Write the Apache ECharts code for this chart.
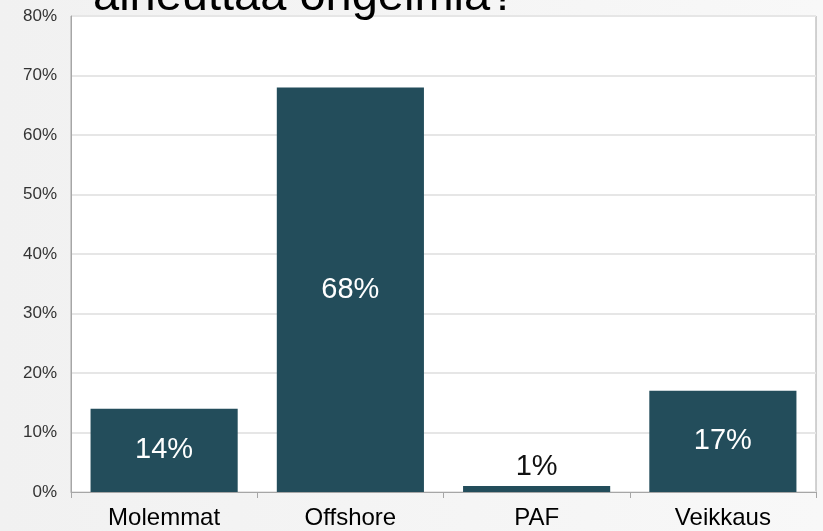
<!DOCTYPE html>
<html>
<head>
<meta charset="utf-8">
<script src="https://cdn.jsdelivr.net/npm/echarts@6/dist/echarts.min.js"></script>
<style>
  html, body { margin: 0; padding: 0; background: #f4f4f4; }
  #main { width: 823px; height: 531px; }
</style>
</head>
<body>
<div id="main"></div>
<script>
// kategoriat ja arvot (%)
var categories = ['Molemmat', 'Offshore', 'PAF', 'Veikkaus'];
var values = [14, 68, 1, 17];
var titleText = 'aiheuttaa ongelmia?';

var myChart = echarts.init(document.getElementById('main'));

var seriesData = values.map(function (v) {
    var item = { value: v };
    // pienelle pylväälle label yläpuolelle, mustana
    if (v < 5) {
        item.label = { position: 'top', color: '#111', distance: 5 };
    }
    return item;
});

var option = {
    backgroundColor: {
        type: 'linear', x: 0, y: 0, x2: 1, y2: 0,
        colorStops: [{ offset: 0, color: '#f1f1f1' }, { offset: 1, color: '#f8f8f8' }]
    },
    textStyle: { fontFamily: 'Liberation Sans, Arial, sans-serif' },
    graphic: [{
        type: 'text',
        left: 93,
        top: -26,
        style: {
            text: titleText,
            fontSize: 47,
            fontFamily: 'Liberation Sans, Arial, sans-serif',
            fill: '#000'
        },
        z: 10
    }],
    grid: {
        left: 71, right: 7, top: 16, bottom: 39,
        outerBoundsMode: 'none',
        show: true,
        backgroundColor: '#fff',
        borderColor: '#a6a6a6',
        borderWidth: 1
    },
    xAxis: {
        type: 'category',
        data: categories,
        axisLine: { lineStyle: { color: '#a6a6a6', width: 1 } },
        axisTick: { show: true, length: 6, lineStyle: { color: '#a6a6a6' } },
        axisLabel: { color: '#000', fontSize: 24, margin: 14 }
    },
    yAxis: {
        type: 'value',
        min: 0, max: 80, interval: 10,
        axisLine: { show: true, lineStyle: { color: '#a6a6a6' } },
        axisTick: { show: false },
        axisLabel: { color: '#333', fontSize: 17, margin: 14, formatter: '{value}%' },
        splitLine: { lineStyle: { color: '#e6e6e6', width: 2 } }
    },
    series: [{
        type: 'bar',
        data: seriesData,
        barCategoryGap: '21%',
        itemStyle: { color: '#234d5b' },
        label: {
            show: true,
            position: 'inside',
            color: '#fff',
            fontSize: 29,
            formatter: '{c}%'
        }
    }]
};
myChart.setOption(option);
</script>
</body>
</html>
